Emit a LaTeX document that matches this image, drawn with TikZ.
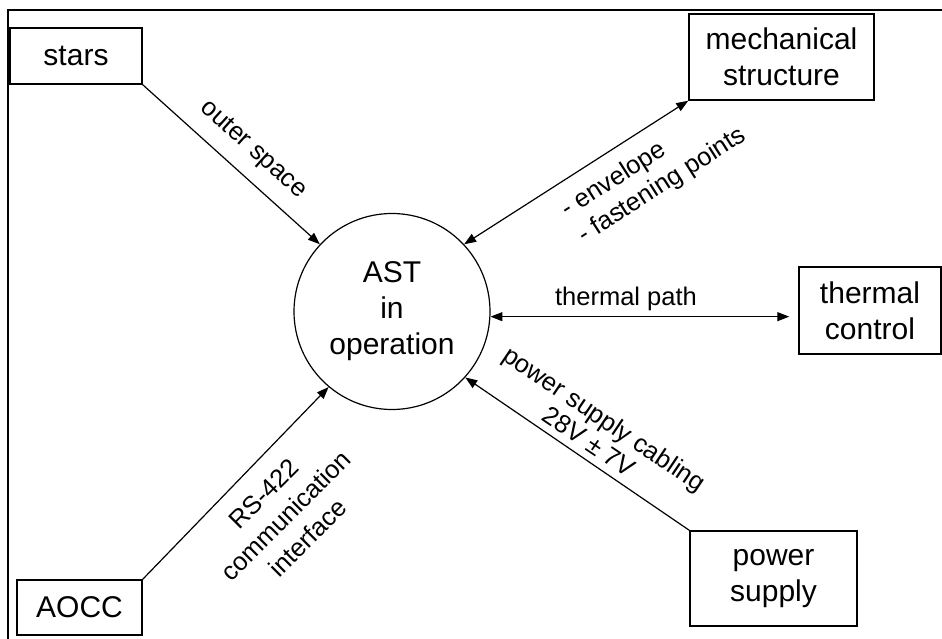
\documentclass[tikz,border=0pt]{standalone}
\usepackage{fontspec}
\setmainfont{Liberation Sans}
\usetikzlibrary{arrows.meta}
\tikzset{
  boxnode/.style={draw, line width=1.4pt, inner sep=0pt, align=center, font=\fontsize{30}{36}\selectfont},
  labelnode/.style={inner sep=0pt, font=\fontsize{25.5}{30.6}\selectfont},
  conn/.style={line width=1.2pt, -{Triangle[length=12pt,width=9pt]}},
  bconn/.style={line width=1.2pt, {Triangle[length=12pt,width=9pt]}-{Triangle[length=12pt,width=9pt]}},
  framel/.style={line width=1.3pt}
}
\begin{document}
\begin{tikzpicture}[x=1pt,y=-1pt]
\useasboundingbox (0,0) rectangle (942,639);
% frame
\draw[framel] (8,645) -- (8,10) -- (950,10);
% nodes
\node[boxnode, minimum width=132pt, minimum height=56pt] (stars) at (76,56) {stars};
\node[boxnode, minimum width=185pt, minimum height=86pt] (mech) at (781.5,57) {mechanical\\structure};
\node[boxnode, minimum width=142pt, minimum height=87pt] (thermal) at (870,310.5) {thermal\\control};
\node[boxnode, minimum width=167pt, minimum height=95pt] (power) at (773.5,578.5) {power\\supply};
\node[boxnode, minimum width=125pt, minimum height=55pt] (aocc) at (79.5,607.5) {AOCC};
\node[circle, draw, line width=1.2pt, minimum size=196pt, inner sep=0pt, align=center, font=\fontsize{30}{36}\selectfont] (ast) at (392,311.5) {AST\\in\\operation};
% connectors
\draw[conn] (stars.south east) -- (ast.137);
\draw[bconn] (ast.43) -- (mech.south west);
\coordinate (thend) at (ast.-3 -| thermal.west);
\draw[bconn, shorten >=9pt] (ast.-3) -- (thend);
\draw[conn] (power.north west) -- (ast.-42);
\draw[conn] (aocc.north east) -- (ast.230);
% labels
\node[labelnode, rotate=-42] (lstars) at (253,150) {outer space};
\node[labelnode, rotate=32.6, align=left] (lmech) at (654,173) {- envelope\\- fastening points};
\node[labelnode, anchor=base] (ltherm) at (626,305) {thermal path};
\node[labelnode, rotate=-34, align=center, font=\fontsize{25.5}{28}\selectfont] (lpower) at (597,430) {power supply cabling\\28V ± 7V};
\node[labelnode, rotate=45, align=center, font=\fontsize{25.5}{31}\selectfont] (laocc) at (286,516) {RS-422\\communication\\interface};
\end{tikzpicture}
\end{document}
